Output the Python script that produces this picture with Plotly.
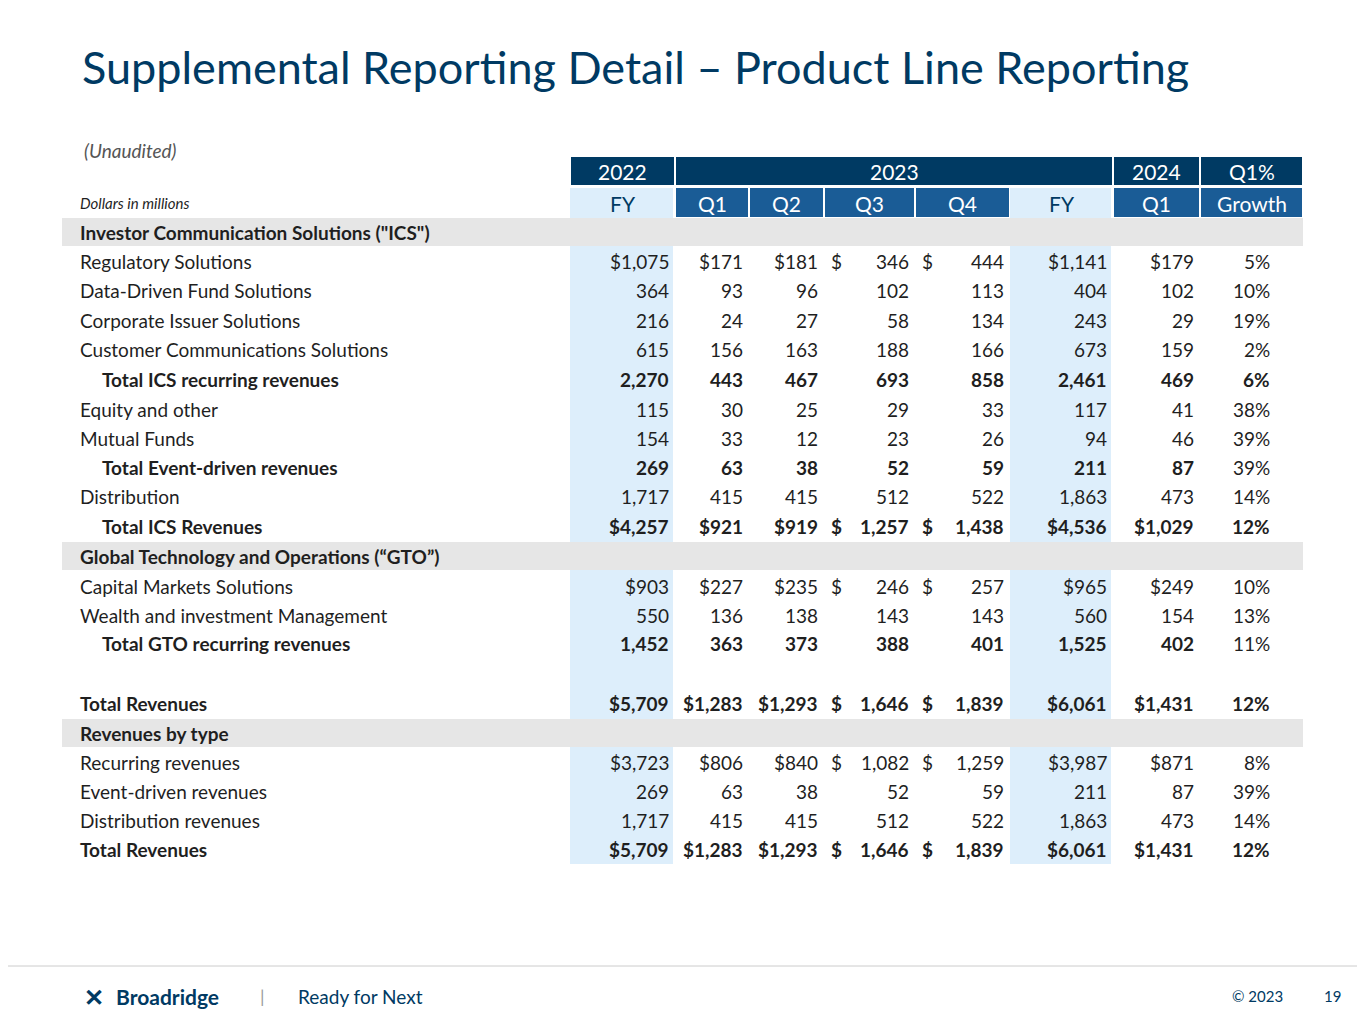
import plotly.graph_objects as go

title = "Supplemental Reporting Detail – Product Line Reporting"
years = [("2022", 570, 675), ("2023", 675, 1113), ("2024", 1113, 1200), ("Q1%", 1200, 1303)]
periods = ["FY", "Q1", "Q2", "Q3", "Q4", "FY", "Q1", "Growth"]
col_left = [570, 675, 749, 824, 915, 1010, 1113, 1200]
col_right = [675, 749, 824, 915, 1010, 1113, 1200, 1303]
light_cols = [0, 5]
dollar_split_cols = [3, 4]

# rows: (label, kind, values, dollar, growth_bold)
rows = [
    ("Investor Communication Solutions (\"ICS\")", "section", None, False, False),
    ("Regulatory Solutions", "normal", [1075, 171, 181, 346, 444, 1141, 179, 5], True, False),
    ("Data-Driven Fund Solutions", "normal", [364, 93, 96, 102, 113, 404, 102, 10], False, False),
    ("Corporate Issuer Solutions", "normal", [216, 24, 27, 58, 134, 243, 29, 19], False, False),
    ("Customer Communications Solutions", "normal", [615, 156, 163, 188, 166, 673, 159, 2], False, False),
    ("Total ICS recurring revenues", "total", [2270, 443, 467, 693, 858, 2461, 469, 6], False, True),
    ("Equity and other", "normal", [115, 30, 25, 29, 33, 117, 41, 38], False, False),
    ("Mutual Funds", "normal", [154, 33, 12, 23, 26, 94, 46, 39], False, False),
    ("Total Event-driven revenues", "total", [269, 63, 38, 52, 59, 211, 87, 39], False, False),
    ("Distribution", "normal", [1717, 415, 415, 512, 522, 1863, 473, 14], False, False),
    ("Total ICS Revenues", "total", [4257, 921, 919, 1257, 1438, 4536, 1029, 12], True, True),
    ("Global Technology and Operations (“GTO”)", "section", None, False, False),
    ("Capital Markets Solutions", "normal", [903, 227, 235, 246, 257, 965, 249, 10], True, False),
    ("Wealth and investment Management", "normal", [550, 136, 138, 143, 143, 560, 154, 13], False, False),
    ("Total GTO recurring revenues", "total", [1452, 363, 373, 388, 401, 1525, 402, 11], False, False),
    ("", "blank", None, False, False),
    ("Total Revenues", "totalb", [5709, 1283, 1293, 1646, 1839, 6061, 1431, 12], True, True),
    ("Revenues by type", "section", None, False, False),
    ("Recurring revenues", "normal", [3723, 806, 840, 1082, 1259, 3987, 871, 8], True, False),
    ("Event-driven revenues", "normal", [269, 63, 38, 52, 59, 211, 87, 39], False, False),
    ("Distribution revenues", "normal", [1717, 415, 415, 512, 522, 1863, 473, 14], False, False),
    ("Total Revenues", "totalb", [5709, 1283, 1293, 1646, 1839, 6061, 1431, 12], True, True),
]
row_y = [233, 262, 291, 321, 350, 380, 410, 439, 468, 497, 527, 557, 587, 616, 644, 674, 704, 734, 763, 792, 821, 850]

NAVY = "#003A63"
BLUE = "#1A5C96"
LIGHT = "#DDEEFB"
GRAY = "#E6E6E6"
TXT = "#1F1F1F"
FONT = "Lato"

fig = go.Figure()
shapes, ann = [], []

def rect(x0, y0, x1, y1, color):
    shapes.append(dict(type="rect", x0=x0, x1=x1, y0=y0, y1=y1, fillcolor=color, line=dict(width=0), layer="below"))

def text(x, y, s, size=19, color=TXT, anchor="left", bold=False, italic=False, family=FONT):
    if bold:
        s = "<b>" + s + "</b>"
    if italic:
        s = "<i>" + s + "</i>"
    ann.append(dict(x=x, y=y, text=s, showarrow=False, xanchor=anchor, yanchor="middle",
                    font=dict(size=size, color=color, family=family)))

for c in light_cols:
    rect(col_left[c], 189, col_right[c] - 2, 865, LIGHT)
for lab, x0, x1 in years:
    rect(x0 + 1, 158, x1 - 1, 186, NAVY)
    text((x0 + x1) / 2, 172, lab, size=21, color="white", anchor="center")
for i, p in enumerate(periods):
    if i in light_cols:
        col = NAVY
    else:
        rect(col_left[i] + 1, 189, col_right[i] - 1, 218, BLUE)
        col = "white"
    text((col_left[i] + col_right[i]) / 2, 204, p, size=21, color=col, anchor="center")
text(78, 204, "Dollars in millions", size=15, italic=True)
text(82, 151, "(Unaudited)", size=19, color="#555555", italic=True)

def fmt(v, money):
    s = f"{v:,}"
    return ("$" + s) if money else s

for (lab, kind, vals, dollar, gbold), y in zip(rows, row_y):
    if kind == "section":
        rect(62, y - 14, 1303, y + 14, GRAY)
        text(78, y, lab, bold=True)
        continue
    if kind == "blank":
        continue
    bold = kind in ("total", "totalb")
    indent = 100 if kind == "total" else 78
    text(indent, y, lab, bold=kind != "normal")
    for i, v in enumerate(vals):
        xr = col_right[i] - 4
        if i == 7:
            text(1272, y, f"{v}%", anchor="right", bold=gbold)
        elif i in dollar_split_cols and dollar:
            text(col_left[i] + 5, y, "$", anchor="left", bold=bold)
            text(xr, y, f"{v:,}", anchor="right", bold=bold)
        else:
            text(xr, y, fmt(v, dollar), anchor="right", bold=bold)

text(80, 68, title, size=45, color=NAVY)

shapes.append(dict(type="line", x0=0, x1=1373, y0=967, y1=967, line=dict(color="#CCCCCC", width=1)))
text(82, 997, "<b>✕</b>", size=24, color=NAVY)
text(114, 997, "Broadridge", size=21, color=NAVY, bold=True)
text(258, 997, "|", size=18, color="#999999")
text(296, 997, "Ready for Next", size=19, color=NAVY)
text(1230, 997, "© 2023", size=15, color=NAVY)
text(1322, 997, "19", size=15, color=NAVY)

fig.add_trace(go.Scatter(x=[0], y=[0], mode="markers", marker=dict(opacity=0), showlegend=False, hoverinfo="skip"))
fig.update_layout(
    width=1365, height=1024, margin=dict(l=0, r=0, t=0, b=0),
    plot_bgcolor="white", paper_bgcolor="white",
    xaxis=dict(range=[8, 1373], visible=False, fixedrange=True),
    yaxis=dict(range=[1033, 9], visible=False, fixedrange=True),
    shapes=shapes, annotations=ann, showlegend=False,
)
fig.write_html("out.html")
